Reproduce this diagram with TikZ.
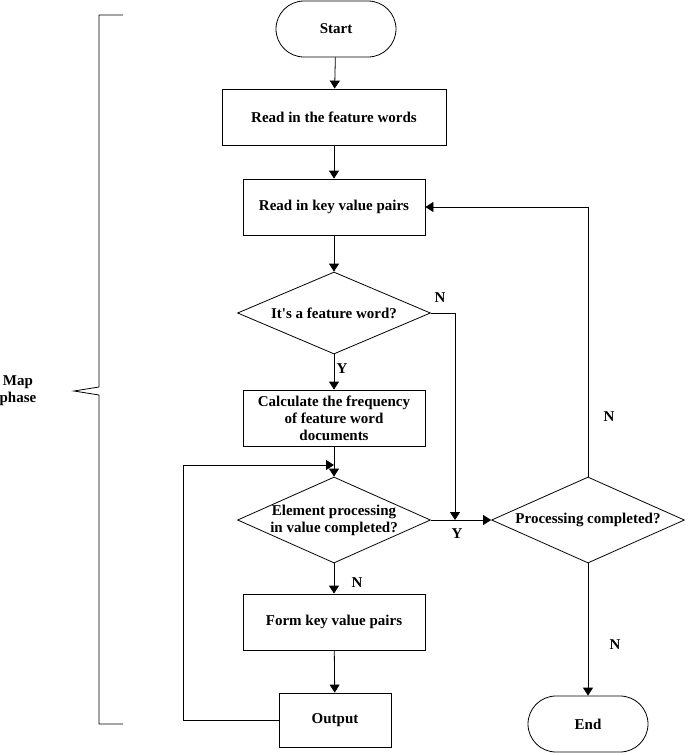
\documentclass[tikz,border=0pt]{standalone}
\usepackage{fontspec}
\setmainfont{Liberation Serif}[Ligatures=TeXOff]
\usetikzlibrary{arrows.meta,shapes.geometric}
\begin{document}
\begin{tikzpicture}[x=1pt,y=-1pt,
  every node/.style={font=\fontsize{15}{17}\selectfont\bfseries},
  line/.style={line width=0.8pt},
  arr/.style={line width=0.8pt,-{Triangle[width=10pt,length=8pt]}},
  box/.style={draw,line width=0.8pt,rectangle,inner sep=2pt,align=center},
  term/.style={draw,line width=0.8pt,rectangle,rounded corners=28pt,minimum width=120pt,minimum height=56pt},
  dia/.style={draw,line width=0.8pt,diamond,inner sep=0pt,minimum width=193pt},
  lab/.style={inner sep=0pt}
]
\useasboundingbox (0,0) rectangle (685,753);
% bracket
\draw[line] (123,15) -- (99,15) -- (99,387) -- (74,391) -- (99,395) -- (99,724) -- (123,724);
\node[lab,align=center] (map) at (18,391) {Map\\phase};
% nodes
\node[term] (start) at (336,29) {Start};
\node[box,minimum width=224pt,minimum height=56pt] (rfw) at (334,117) {Read in the feature words};
\node[box,minimum width=182pt,minimum height=56pt] (rkv) at (334,207) {Read in key value pairs};
\node[dia,minimum height=82pt,label={center:It's a feature word?}] (d1) at (334,313) {};
\node[box,minimum width=182pt,minimum height=56pt] (calc) at (334,418) {Calculate the frequency\\of feature word\\documents};
\node[dia,minimum height=86pt,label={[align=center]center:Element processing\\in value completed?}] (d2) at (334,520) {};
\node[dia,minimum height=86pt,label={center:Processing completed?}] (pc) at (588,520) {};
\node[box,minimum width=182pt,minimum height=56pt] (form) at (334,622) {Form key value pairs};
\node[box,minimum width=112pt,minimum height=54pt] (out) at (335,720) {Output};
\node[term] (end) at (588,724) {End};
% connectors
\draw[arr] (start) -- (rfw);
\draw[arr] (rfw) -- (rkv);
\draw[arr] (rkv) -- (d1);
\draw[arr] (d1) -- (calc);
\draw[arr] (calc) -- (d2);
\coordinate (j) at (455,520);
\draw[arr] (d1.east) -| (j);
\draw[arr] (d2.east) -- (pc.west);
\draw[arr] (pc.north) |- (rkv.east);
\draw[arr] (pc.south) -- (end.north);
\draw[arr] (d2.south) -- (form.north);
\draw[arr] (form) -- (out);
\coordinate (loopin) at (334,465);
\draw[arr] (out.west) -- (183,720) -- (183,465) -- (loopin);
% labels
\node[lab] (ln1) at (440,298) {N};
\node[lab] (ly1) at (342,369) {Y};
\node[lab] (ly2) at (457,534) {Y};
\node[lab] (ln2) at (609,417) {N};
\node[lab] (ln3) at (615,645) {N};
\node[lab] (ln4) at (357,583) {N};
\end{tikzpicture}
\end{document}
